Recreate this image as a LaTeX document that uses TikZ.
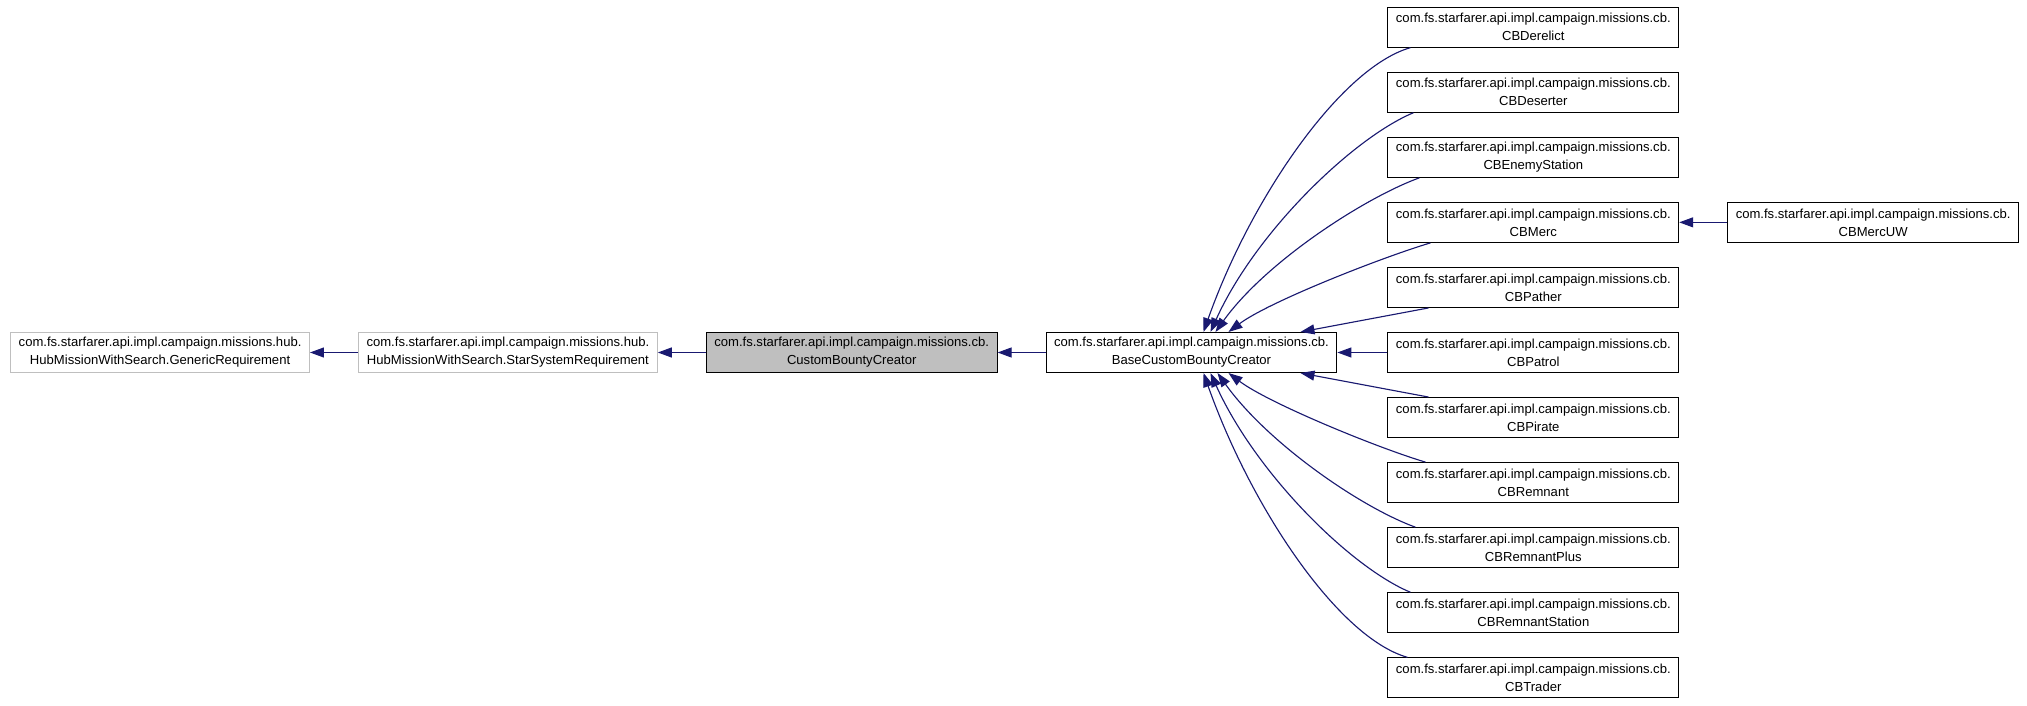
\documentclass[tikz,border=0pt]{standalone}
\usepackage{fontspec}
\setmainfont{Liberation Sans}
\usepackage{xcolor}
\usepackage{tikz}
\usetikzlibrary{arrows.meta, positioning, calc}
\definecolor{edgeblue}{RGB}{25,25,112}
\definecolor{grayfill}{RGB}{191,191,191}

\begin{document}
\begin{tikzpicture}[
    x=0.025cm, y=0.025cm,
    node distance=0.6cm and 1.2cm,
    cls/.style={rectangle, draw, line width=0.75pt, minimum height=1cm, inner xsep=0.2cm, inner ysep=2pt, align=center, font=\fontsize{9.3}{12.8}\selectfont},
    undoc/.style={cls, draw=grayfill},
    focus/.style={cls, fill=grayfill},
    inherit/.style={-{Triangle[length=0.35cm, width=0.25cm]}, edgeblue, line width=0.8pt}
]
\useasboundingbox (0,0) rectangle (2027,705);

\node[cls] (base) at (1191.5,352.5) {com.fs.starfarer.api.impl.campaign.missions.cb.\\BaseCustomBountyCreator};
\node[focus, left=of base] (custom) {com.fs.starfarer.api.impl.campaign.missions.cb.\\CustomBountyCreator};
\node[undoc, left=of custom] (starsys) {com.fs.starfarer.api.impl.campaign.missions.hub.\\HubMissionWithSearch.StarSystemRequirement};
\node[undoc, left=of starsys] (generic) {com.fs.starfarer.api.impl.campaign.missions.hub.\\HubMissionWithSearch.GenericRequirement};

\node[cls, right=1.25cm of base] (patrol) {com.fs.starfarer.api.impl.campaign.missions.cb.\\CBPatrol};
\node[cls, above=of patrol] (pather) {com.fs.starfarer.api.impl.campaign.missions.cb.\\CBPather};
\node[cls, above=of pather] (merc) {com.fs.starfarer.api.impl.campaign.missions.cb.\\CBMerc};
\node[cls, above=of merc] (enemystation) {com.fs.starfarer.api.impl.campaign.missions.cb.\\CBEnemyStation};
\node[cls, above=of enemystation] (deserter) {com.fs.starfarer.api.impl.campaign.missions.cb.\\CBDeserter};
\node[cls, above=of deserter] (derelict) {com.fs.starfarer.api.impl.campaign.missions.cb.\\CBDerelict};
\node[cls, below=of patrol] (pirate) {com.fs.starfarer.api.impl.campaign.missions.cb.\\CBPirate};
\node[cls, below=of pirate] (remnant) {com.fs.starfarer.api.impl.campaign.missions.cb.\\CBRemnant};
\node[cls, below=of remnant] (remnantplus) {com.fs.starfarer.api.impl.campaign.missions.cb.\\CBRemnantPlus};
\node[cls, below=of remnantplus] (remnantstation) {com.fs.starfarer.api.impl.campaign.missions.cb.\\CBRemnantStation};
\node[cls, below=of remnantstation] (trader) {com.fs.starfarer.api.impl.campaign.missions.cb.\\CBTrader};

\node[cls, right=of merc] (mercuw) {com.fs.starfarer.api.impl.campaign.missions.cb.\\CBMercUW};

% main chain
\draw[inherit] (starsys) -- (generic);
\draw[inherit] (custom) -- (starsys);
\draw[inherit] (base) -- (custom);
\draw[inherit] (patrol) -- (base);
\draw[inherit] (mercuw) -- (merc);

% upper subclasses
\draw[inherit] ($(derelict.south west)+(23,0)$) .. controls +(-70,-20) and +(47,133) .. ($(base.north)+(12,0)$);
\draw[inherit] ($(deserter.south west)+(26,0)$) .. controls +(-60,-25) and +(45,100) .. ($(base.north)+(19,0)$);
\draw[inherit] ($(enemystation.south west)+(32,0)$) .. controls +(-55,-20) and +(50,70) .. ($(base.north)+(24,0)$);
\draw[inherit] ($(merc.south west)+(43,0)$) .. controls +(-50,-15) and +(40,30) .. ($(base.north)+(37,0)$);
\draw[inherit] ($(pather.south west)+(41,0)$) -- ($(base.north)+(109,0)$);

% lower subclasses
\draw[inherit] ($(pirate.north west)+(41,0)$) -- ($(base.south)+(109,0)$);
\draw[inherit] ($(remnant.north west)+(38,0)$) .. controls +(-50,15) and +(40,-30) .. ($(base.south)+(37,0)$);
\draw[inherit] ($(remnantplus.north west)+(28,0)$) .. controls +(-55,20) and +(50,-70) .. ($(base.south)+(26,0)$);
\draw[inherit] ($(remnantstation.north west)+(23,0)$) .. controls +(-60,25) and +(45,-100) .. ($(base.south)+(19,0)$);
\draw[inherit] ($(trader.north west)+(20,0)$) .. controls +(-70,20) and +(47,-133) .. ($(base.south)+(12,0)$);

\end{tikzpicture}
\end{document}
